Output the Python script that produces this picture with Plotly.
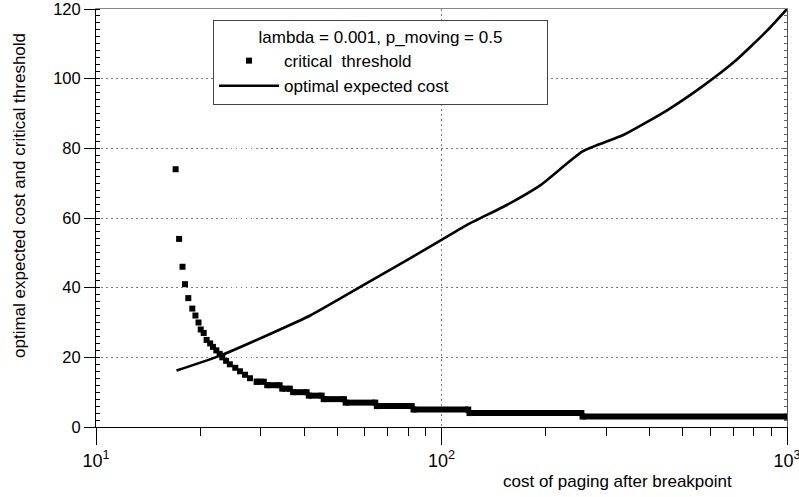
import plotly.graph_objects as go

# ---------------- data ----------------
# optimal expected cost curve
cost_x = [17.1, 22.9, 31.9, 41.7, 58.2, 81.3, 100, 120, 155, 194, 256, 337, 451, 564, 705, 880, 1000]
cost_y = [16.2, 20.5, 26.7, 32.0, 40.2, 48.5, 53.7, 58.3, 63.8, 69.5, 79.1, 83.9, 91.0, 97.5, 104.9, 114.0, 120]

# critical threshold: individual points (steep part)
thr_x = [17.0, 17.4, 17.8, 18.1, 18.5, 19.0, 19.4, 19.8, 20.1, 20.5, 20.9, 21.4,
         21.8, 22.3, 22.8, 23.2, 23.8, 24.4, 25.3, 26.1, 27.0, 27.9, 29.2]
thr_y = [74, 54, 46, 41, 37, 34, 32, 30, 28, 27, 25, 24,
         23, 22, 21, 20, 19, 18, 17, 16, 15, 14, 13]

# critical threshold: flat plateaus (start cost, end cost, threshold)
plateau_start = [29.2, 31.3, 34.6, 37.2, 41.3, 45.6, 52.8, 65.0, 83.0, 120.5, 256]
plateau_end   = [30.6, 34.0, 36.4, 40.7, 45.0, 52.2, 64.3, 82.0, 119.5, 254, 1000]
plateau_value = [13, 12, 11, 10, 9, 8, 7, 6, 5, 4, 3]

x_tickvals = [10, 100, 1000]
x_ticktext = ["10<sup>1</sup>", "10<sup>2</sup>", "10<sup>3</sup>"]
x_minorvals = [20, 30, 40, 50, 60, 70, 80, 90, 200, 300, 400, 500, 600, 700, 800, 900]
y_tickvals = [0, 20, 40, 60, 80, 100, 120]

legend_title = "lambda = 0.001, p_moving = 0.5"

# ---------------- figure ----------------
FONT = "Liberation Sans, Arial, Helvetica, sans-serif"
GRID = "#7a7a7a"

fig = go.Figure()

fig.add_trace(go.Scatter(
    x=thr_x, y=thr_y, mode="markers", name="critical\u00a0 threshold",
    marker=dict(symbol="square", size=6, color="black", line=dict(width=0)),
    cliponaxis=False,
))
fig.add_trace(go.Scatter(
    x=cost_x, y=cost_y, mode="lines", name="optimal expected cost",
    line=dict(color="black", width=2.6, shape="spline", smoothing=0.5),
    cliponaxis=False,
))

px_, py_ = [], []
for s, e, v in zip(plateau_start, plateau_end, plateau_value):
    px_ += [s, e, None]
    py_ += [v, v, None]
fig.add_trace(go.Scatter(
    x=px_, y=py_, mode="lines+markers", showlegend=False,
    line=dict(color="black", width=6),
    marker=dict(symbol="square", size=6, color="black", line=dict(width=0)),
))

# dummy trace for the mirrored top/right frame
fig.add_trace(go.Scatter(x=[None], y=[None], xaxis="x2", yaxis="y2",
                         showlegend=False, hoverinfo="skip"))

fig.update_layout(
    width=799, height=497,
    margin=dict(l=96, r=12, t=9, b=70, autoexpand=False),
    paper_bgcolor="white", plot_bgcolor="white",
    font=dict(family=FONT, size=17, color="black"),
    showlegend=True,
    legend=dict(
        x=(213 - 96) / 691, y=(427 - 20) / 418, xanchor="left", yanchor="top",
        bgcolor="white", bordercolor="#444", borderwidth=1,
        font=dict(size=17),
        title=dict(text="\u00a0" * 9 + legend_title + "\u00a0" * 9,
                   side="top center", font=dict(size=17)),
        itemwidth=60,
        tracegroupgap=0,
    ),
    xaxis=dict(
        type="log", range=[1, 3], automargin=False,
        tickmode="array", tickvals=x_tickvals, ticktext=x_ticktext,
        tickfont=dict(size=18), ticklabeloverflow="allow",
        ticks="outside", ticklen=17, tickwidth=1, tickcolor="black",
        showline=True, linecolor="black", linewidth=1,
        showgrid=True, gridcolor=GRID, griddash="1.5px,3.5px", gridwidth=1,
        zeroline=False,
        minor=dict(tickmode="array", tickvals=x_minorvals, ticks="outside",
                   ticklen=8, tickwidth=1, tickcolor="black", showgrid=False),
    ),
    yaxis=dict(
        range=[0, 120], automargin=False,
        tickmode="array", tickvals=y_tickvals,
        tickfont=dict(size=16.5), ticklabeloverflow="allow",
        ticks="outside", ticklen=11, tickwidth=1, tickcolor="black",
        showline=True, linecolor="black", linewidth=1,
        showgrid=True, gridcolor=GRID, griddash="1.5px,3.5px", gridwidth=1,
        zeroline=False,
        minor=dict(dtick=2, ticks="inside", ticklen=4, tickwidth=1,
                   tickcolor="black", showgrid=False),
    ),
    xaxis2=dict(
        type="log", range=[1, 3], overlaying="x", side="top", anchor="y2",
        automargin=False,
        showline=True, linecolor="#888", linewidth=1,
        ticks="", showticklabels=False, showgrid=False, zeroline=False,
    ),
    yaxis2=dict(
        range=[0, 120], overlaying="y", side="right", anchor="x2",
        automargin=False,
        showline=True, linecolor="#555", linewidth=1,
        ticks="inside", ticklen=4, tickcolor="#555", dtick=20,
        showticklabels=False, showgrid=False, zeroline=False,
        minor=dict(dtick=2, ticks="inside", ticklen=3, tickcolor="#666",
                   showgrid=False),
    ),
    annotations=[
        dict(text="cost of paging after breakpoint", xref="paper", yref="paper",
             x=(617.5 - 96) / 691, y=(427 - 481) / 418,
             xanchor="center", yanchor="middle", showarrow=False,
             font=dict(size=17)),
        dict(text="optimal expected cost and critical threshold",
             xref="paper", yref="paper", textangle=-90,
             x=(20 - 96) / 691, y=(427 - 196) / 418,
             xanchor="center", yanchor="middle", showarrow=False,
             font=dict(size=17)),
    ],
)

fig.write_html("out.html",
               config={"displayModeBar": False},
               post_script="document.body.style.margin='0px';")
